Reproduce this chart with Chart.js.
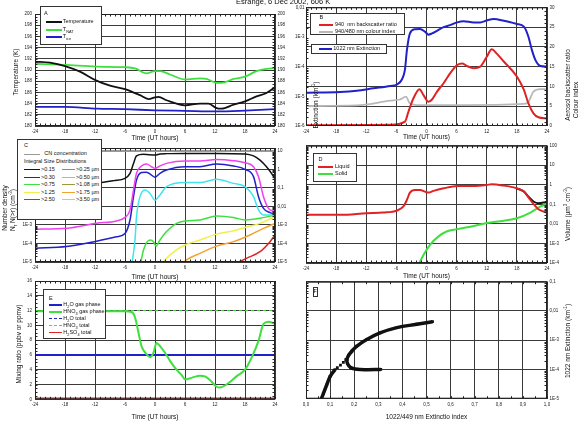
<!DOCTYPE html>
<html>
<head>
<meta charset="utf-8">
<script src="https://cdn.jsdelivr.net/npm/chart.js@4.4.1/dist/chart.umd.min.js"></script>
<style>
body { margin: 0; background: #fff; }
#wrap { position: relative; width: 580px; height: 423px; overflow: hidden; background: #fff;
        font-family: "Liberation Sans", Arial, sans-serif; color: #111; }
canvas { position: absolute; left: 0; top: 0; }
.t { position: absolute; white-space: nowrap; line-height: 1; }
.rot { transform: translate(-50%, -50%) rotate(-90deg); }
.box { position: absolute; border: 1px solid #333; background: #fff; box-sizing: border-box; }
.sw { position: absolute; height: 0; }
sub, sup { font-size: 70%; line-height: 0; }
</style>
</head>
<body>
<div id="wrap"></div>
<script>
// ---- Panel A: temperatures (K) ----
const tempHours = [-24, -21, -18, -15, -11.7, -9, -6, -3, -1.3, 0, 0.7, 2.3, 6, 9, 10.7, 12.3, 13.3, 15.7, 18, 20.3, 22.3, 24];
const tempK = [191.5, 191.3, 190.7, 189.7, 188.1, 187.2, 186.6, 185.5, 184.8, 185.1, 185.2, 184.6, 183.7, 184.0, 184.0, 183.2, 183.1, 183.8, 184.4, 185.3, 185.9, 186.9];
const natHours = [-24, -18, -11.7, -6, -4, -1.7, 0, 1, 3, 6, 9, 10.3, 12.3, 13.3, 15.7, 18, 20.3, 22.3, 24];
const natK = [191.1, 190.9, 190.6, 190.5, 190.3, 189.4, 189.8, 189.8, 189.2, 188.3, 188.5, 188.4, 187.7, 187.7, 188.4, 188.8, 189.8, 190.2, 190.3];
const iceHours = [-24, -18, -11.7, -6, 0, 6, 12.3, 18, 24];
const iceK = [183.4, 183.4, 183.1, 183.0, 182.8, 182.7, 182.6, 182.75, 183.0];

// ---- Panel B: extinction (km-1, left log) and ratios (right) ----
const extHours = [-24, -17.2, -13.9, -10.6, -7.2, -5.9, -4.9, -4.3, -3.9, -3.3, -2.3, -1.3, -0.3, 0.4, 1.1, 2.1, 3.4, 4.7, 6.1, 7.4, 9.4, 10.7, 12, 13.4, 15.4, 18, 19.4, 20.3, 21, 21.7, 22.7, 24];
const ext1022 = [1.32e-5, 1.41e-5, 1.55e-5, 1.86e-5, 2.24e-5, 2.5e-5, 3.7e-5, 7.8e-5, 3.6e-4, 1.32e-3, 1.82e-3, 1.86e-3, 1.51e-3, 1.2e-3, 1.32e-3, 1.62e-3, 2.14e-3, 2.5e-3, 3.1e-3, 3.4e-3, 3.1e-3, 3.1e-3, 3.6e-3, 4.0e-3, 3.5e-3, 2.75e-3, 2.24e-3, 1.02e-3, 3.6e-4, 1.66e-4, 1.05e-4, 1.0e-4];
const bsrHours = [-24, -7.2, -4.3, -3.6, -2.6, -1.4, -0.6, 0.4, 1.1, 2.1, 3.4, 4.7, 6.1, 7.1, 8.0, 9.4, 10.7, 12.0, 13.0, 14.0, 15.4, 18.0, 19.4, 20.3, 21.3, 22.3, 24];
const bsr940 = [0.2, 0.3, 1.1, 3.6, 7.0, 9.3, 7.8, 6.1, 6.7, 8.7, 10.8, 13.3, 15.4, 15.8, 15.2, 14.6, 15.0, 17.5, 19.4, 18.3, 16.3, 12.5, 9.1, 5.7, 3.2, 2.2, 1.9];
const ciHours = [-24, -13.9, -7.2, -5.3, -4.1, -3.3, -1.9, 6.1, 19.4, 20.3, 21.3, 22.7, 24];
const ci940 = [5.05, 5.2, 6.4, 6.7, 7.4, 5.7, 5.3, 5.3, 5.6, 6.1, 8.7, 9.3, 9.3];

// ---- Panel C: integral size distributions (cm-3) ----
const cnHours = [-24, 24];
const cnConc = [10, 10];
const n015Hours = [-24, -16, -10.7, -8.3, -6, -5, -4.3, -3.7, -2.3, 0, 1, 2.3, 6, 12.3, 18, 19.7, 21, 22.3, 23.3, 24];
const n015 = [0.11, 0.14, 0.2, 0.25, 0.33, 0.62, 2.1, 5.4, 6.6, 6.0, 6.9, 7.2, 7.4, 7.4, 6.9, 5.4, 3.2, 1.4, 0.62, 0.3];
const n025Hours = [-24, -17.7, -11.7, -7.7, -6, -5, -4.3, -3.7, -2.7, -1.7, -0.7, 0, 1, 2.3, 6, 9, 12.3, 15.7, 18, 19.7, 20.7, 21.7, 22.7, 24];
const n025 = [5.9e-4, 6.6e-4, 1.23e-3, 1.66e-3, 2.57e-3, 6.5e-3, 0.078, 0.62, 1.55, 2.0, 1.41, 1.15, 1.55, 2.14, 2.9, 2.9, 3.5, 3.0, 2.3, 1.41, 0.41, 0.034, 7.9e-3, 5.2e-3];
const n030Hours = [-24, -17.7, -13, -7.7, -6, -5, -4.3, -3.7, -2.7, -1.7, -0.7, 0, 1, 2.3, 6, 9, 12.3, 15.7, 18, 19.7, 20.7, 21.7, 23, 24];
const n030 = [5.5e-5, 6.8e-5, 1.12e-4, 2.3e-4, 3.5e-4, 1.86e-3, 0.034, 0.27, 0.68, 0.71, 0.5, 0.38, 0.62, 0.93, 1.41, 1.41, 2.0, 1.55, 1.02, 0.41, 0.034, 7.9e-3, 4.7e-3, 3.9e-3];
const n050Hours = [-4.7, -4, -3.7, -3, -2, -1, 0, 1, 2.3, 6, 9, 12.3, 15.7, 18, 19.7, 20.7, 21.7, 24];
const n050 = [5.6e-6, 1.55e-4, 2.8e-3, 0.034, 0.078, 0.051, 0.022, 0.042, 0.117, 0.195, 0.195, 0.295, 0.178, 0.117, 0.034, 6.5e-3, 3.5e-3, 3.5e-3];
const n075Hours = [-3, -2.3, -1, -0.3, 0.2, 1, 2.3, 4.3, 6, 9, 12.3, 15.7, 18, 21, 24];
const n075 = [5.6e-6, 4.5e-5, 1.55e-4, 1.26e-4, 7.2e-5, 1.55e-4, 4.4e-4, 1.23e-3, 1.66e-3, 1.86e-3, 3.1e-3, 2.57e-3, 1.86e-3, 2.3e-3, 3.5e-3];
const n125Hours = [1.3, 2.3, 4.3, 6, 9, 12.3, 15.7, 18, 21, 24];
const n125 = [6.9e-6, 1.58e-5, 4.5e-5, 8.3e-5, 1.55e-4, 3.2e-4, 4.9e-4, 7.4e-4, 1.23e-3, 2.8e-3];
const n175Hours = [5, 6.3, 9, 12.3, 15.7, 19, 21.7, 24];
const n175 = [5.6e-6, 1.29e-5, 2.95e-5, 7.2e-5, 1.26e-4, 2.9e-4, 6.6e-4, 1.23e-3];
const n250Hours = [16, 18.3, 21, 23, 24];
const n250 = [7.9e-6, 1.58e-5, 3.6e-5, 1.26e-4, 2.9e-4];
const n350Hours = [23.3, 24];
const n350 = [7.9e-6, 1.58e-5];

// ---- Panel D: volume (um3 cm-3) ----
const liqHours = [-24, -17.2, -11.9, -8.6, -5.9, -4.6, -3.9, -3.3, -2.3, -1.3, -0.3, 0.4, 1.4, 3.4, 6.1, 9.4, 12, 13, 15.4, 18, 19.4, 20.3, 21.3, 22.3, 23.3, 24];
const liqVol = [0.029, 0.029, 0.035, 0.038, 0.048, 0.078, 0.17, 0.40, 0.55, 0.55, 0.45, 0.40, 0.49, 0.66, 0.87, 0.87, 0.98, 1.07, 0.91, 0.66, 0.45, 0.23, 0.105, 0.056, 0.043, 0.038];
const totHours = [18, 19.4, 20.3, 21.3, 22.3, 23.3, 24];
const totVol = [0.66, 0.45, 0.25, 0.14, 0.115, 0.123, 0.138];
const solHours = [-1.6, -0.6, 0.7, 2.4, 4.0, 6.1, 9.4, 12, 15.4, 18, 20.7, 22.7, 24];
const solVol = [8.1e-5, 2.6e-4, 8.5e-4, 2.3e-3, 4.1e-3, 5.4e-3, 7.9e-3, 0.011, 0.0145, 0.0195, 0.038, 0.078, 0.105];

// ---- Panel E: mixing ratios ----
const mixHours = [-24, -6, -4.7, -4, -3.3, -2.7, -1.7, -1, -0.3, 0.3, 1, 2, 3, 4.3, 5.3, 6, 7.3, 9, 10, 11, 12.3, 13, 14.3, 16.3, 18, 19.3, 20.7, 21.7, 22.7, 24];
const hno3Gas = [11.9, 11.9, 11.8, 11.1, 9.0, 7.2, 6.1, 5.7, 6.3, 7.6, 7.2, 6.3, 5.2, 4.0, 3.3, 2.7, 2.9, 3.2, 3.1, 2.6, 1.7, 1.6, 2.0, 3.1, 4.0, 5.6, 7.9, 10.2, 10.5, 10.2];
const flatHours = [-24, 24];
const h2oGas = [6, 6];
const h2oTotal = [6, 6];
const hno3Total = [12, 12];
const h2so4Total = [0.15, 0.15];

// ---- Panel F: extinction vs colour index ----
const fLowIdx = [0.063, 0.072, 0.086, 0.1, 0.12];
const fLowExt = [9.5e-6, 1.5e-5, 2.95e-5, 5.75e-5, 9.8e-5];
const fGapIdx = [0.13, 0.143, 0.155, 0.165];
const fGapExt = [1.15e-4, 1.41e-4, 1.74e-4, 2.14e-4];
const fUpIdx = [0.176, 0.19, 0.21, 0.252, 0.307, 0.377, 0.46, 0.525];
const fUpExt = [3.0e-4, 4.2e-4, 6.2e-4, 1.05e-3, 1.78e-3, 2.7e-3, 3.5e-3, 4.3e-3];
const fHookIdx = [0.176, 0.17, 0.172, 0.185, 0.21, 0.25, 0.31];
const fHookExt = [3.0e-4, 2.2e-4, 1.6e-4, 1.17e-4, 1.02e-4, 9.8e-5, 1.0e-4];

const BLACK = '#111', GREEN = '#3ee03e', BLUE = '#2121c9', RED = '#e02222', GRAY = '#b8b8b8';
const MAGENTA = '#f040f0', CYAN = '#40e4ec', OLIVE = '#9c9a40', YELLOW = '#f0f048', ORANGE = '#f6a030', LGRAY = '#c4c4c4';
const GRID = '#3a3a3a';
const FONT = '"Liberation Sans", Arial, sans-serif';
const TICK_FONT = { family: FONT, size: 4.5 };
const AXW = 22;  // fixed width of every y axis box

const wrap = document.getElementById('wrap');

const pts = (xs, ys) => xs.map((x, i) => ({ x, y: ys[i] }));

function line(xs, ys, color, width, extra) {
    return Object.assign({
        data: pts(xs, ys), borderColor: color, backgroundColor: color, borderWidth: width,
        pointRadius: 0, cubicInterpolationMode: 'monotone', fill: false
    }, extra || {});
}

const logLabel = v => v >= 1 ? String(v) : v >= 0.01 ? String(v).replace('.', ',') : '1E' + Math.round(Math.log10(v));

function decades(a, b) {
    const out = [];
    for (let e = a; e <= b; e++) out.push(Number('1e' + e));
    return out;
}
function logMinor(a, b) {
    const out = [];
    for (let e = a; e < b; e++) for (let m = 2; m <= 9; m++) out.push(m * Math.pow(10, e));
    return out;
}
function linMinor(min, max, step) {
    const out = [];
    for (let v = min; v <= max + 1e-9; v += step) out.push(+v.toFixed(4));
    return out;
}

function xTime() {
    return {
        type: 'linear', position: 'bottom', min: -24, max: 24,
        ticks: { stepSize: 6, autoSkip: false, maxRotation: 0, font: TICK_FONT, color: '#222', padding: 3 },
        grid: { color: GRID, lineWidth: 1, drawTicks: false }, border: { display: false },
        title: { display: true, text: 'Time (UT hours)', font: { family: FONT, size: 6.5 }, color: '#111', padding: 0 }
    };
}

function yAxis(pos, type, min, max, o) {
    const s = {
        type, position: pos, min, max,
        ticks: { display: !!o.labels, autoSkip: false, font: TICK_FONT, color: '#222', padding: o.pad || 3 },
        grid: { display: !!o.grid, color: o.gridColor || GRID, lineWidth: o.gridWidth || 1, drawTicks: false },
        border: { display: false }
    };
    if (type === 'linear') s.ticks.stepSize = o.step;
    else {
        s.afterBuildTicks = sc => { sc.ticks = o.ticks.map(v => ({ value: v })); };
        s.ticks.callback = v => logLabel(v);
    }
    return s;
}

// frame round the plot plus small inward minor ticks
const frame = {
    id: 'frame',
    afterDraw(chart, args, o) {
        const { ctx, chartArea: a } = chart;
        ctx.save();
        ctx.strokeStyle = '#222';
        ctx.lineWidth = 1;
        ctx.beginPath();
        const xs = chart.scales.x;
        (o.xMinor || []).forEach(v => {
            const p = Math.round(xs.getPixelForValue(v)) + 0.5;
            ctx.moveTo(p, a.top); ctx.lineTo(p, a.top + 2.5);
            ctx.moveTo(p, a.bottom); ctx.lineTo(p, a.bottom - 2.5);
        });
        ['left', 'right'].forEach(side => {
            const m = o[side];
            if (!m) return;
            const s = chart.scales[m.id];
            const x0 = side === 'left' ? a.left : a.right;
            const d = side === 'left' ? 2.5 : -2.5;
            m.values.forEach(v => {
                const p = Math.round(s.getPixelForValue(v)) + 0.5;
                if (p < a.top || p > a.bottom) return;
                ctx.moveTo(x0, p); ctx.lineTo(x0 + d, p);
            });
        });
        ctx.stroke();
        ctx.strokeRect(a.left + 0.5, a.top + 0.5, a.width - 1, a.height - 1);
        ctx.restore();
    }
};

// box = [left, top, right, bottom] of the plot area, hB = height of the x axis box
function panel(box, hB, datasets, scales, frameOpts) {
    const cv = document.createElement('canvas');
    cv.width = 580;
    cv.height = 423;
    wrap.appendChild(cv);
    scales.x.afterFit = s => { s.height = hB; };
    scales.y.afterFit = s => { s.width = AXW; };
    scales.y2.afterFit = s => { s.width = AXW; };
    return new Chart(cv, {
        type: 'line',
        data: { datasets },
        options: {
            responsive: false, animation: false, events: [],
            layout: { padding: { left: box[0] - AXW, top: box[1], right: 580 - box[2] - AXW, bottom: 423 - box[3] - hB } },
            plugins: { legend: { display: false }, tooltip: { enabled: false }, frame: frameOpts },
            scales
        },
        plugins: [frame]
    });
}

const hourMinor = linMinor(-24, 24, 1);

// A
panel([35, 14, 275, 126], 16, [
    line(tempHours, tempK, BLACK, 1.8),
    line(natHours, natK, GREEN, 1.8),
    line(iceHours, iceK, BLUE, 1.8)
], {
    x: xTime(),
    y: yAxis('left', 'linear', 180, 200, { labels: true, grid: true, step: 2 }),
    y2: yAxis('right', 'linear', 180, 200, { labels: true, step: 2, pad: 2.5 })
}, { xMinor: hourMinor, left: { id: 'y', values: linMinor(180, 200, 0.5) }, right: { id: 'y2', values: linMinor(180, 200, 0.5) } });

// B
panel([306, 7.3, 547, 126], 15.5, [
    line(extHours, ext1022, BLUE, 2),
    line(bsrHours, bsr940, RED, 2, { yAxisID: 'y2' }),
    line(ciHours, ci940, GRAY, 1.8, { yAxisID: 'y2' })
], {
    x: xTime(),
    y: yAxis('left', 'logarithmic', 1e-6, 1e-2, { labels: true, ticks: decades(-6, -2), pad: 1.5 }),
    y2: yAxis('right', 'linear', 0, 30, { labels: true, grid: true, step: 5, pad: 2.5 })
}, { xMinor: hourMinor, left: { id: 'y', values: logMinor(-6, -2) }, right: { id: 'y2', values: linMinor(0, 30, 1) } });

// C
panel([35, 148, 275, 262], 18.8, [
    line(cnHours, cnConc, '#999', 2),
    line(n015Hours, n015, BLACK, 1.5),
    line(n025Hours, n025, MAGENTA, 1.5),
    line(n030Hours, n030, BLUE, 1.5),
    line(n050Hours, n050, CYAN, 1.5),
    line(n075Hours, n075, GREEN, 1.5),
    line(n125Hours, n125, YELLOW, 1.5),
    line(n175Hours, n175, ORANGE, 1.5),
    line(n250Hours, n250, RED, 1.5),
    line(n350Hours, n350, LGRAY, 1.5)
], {
    x: xTime(),
    y: Object.assign(yAxis('left', 'logarithmic', 1e-5, 14.5, { labels: true, grid: true, ticks: decades(-5, 1) }),
        {}),
    y2: yAxis('right', 'logarithmic', 1e-5, 14.5, { labels: true, ticks: decades(-5, 1), pad: 2.5 })
}, { xMinor: hourMinor, left: { id: 'y', values: logMinor(-5, 1) }, right: { id: 'y2', values: logMinor(-5, 1) } });

// D
panel([306, 145.7, 547, 263], 16.8, [
    line(liqHours, liqVol, RED, 2, { yAxisID: 'y2' }),
    line(totHours, totVol, BLACK, 2, { yAxisID: 'y2' }),
    line(solHours, solVol, GREEN, 2, { yAxisID: 'y2' })
], {
    x: xTime(),
    y: yAxis('left', 'logarithmic', 1e-4, 100, { ticks: decades(-4, 2) }),
    y2: yAxis('right', 'logarithmic', 1e-4, 100, { labels: true, grid: true, ticks: decades(-4, 2), pad: 2.5 })
}, { xMinor: hourMinor, left: { id: 'y', values: logMinor(-4, 2) }, right: { id: 'y2', values: logMinor(-4, 2) } });

// E
panel([35, 281, 275, 399.3], 22.2, [
    line(mixHours, hno3Gas, GREEN, 2),
    line(flatHours, h2oGas, BLUE, 2),
    line(flatHours, h2oTotal, BLUE, 1, { borderDash: [2, 2] }),
    line(flatHours, hno3Total, GREEN, 1, { borderDash: [3, 3] }),
    line(flatHours, h2so4Total, RED, 1.2)
], {
    x: xTime(),
    y: yAxis('left', 'linear', 0, 16, { labels: true, grid: true, step: 2 }),
    y2: yAxis('right', 'linear', 0, 16, { step: 2 })
}, { xMinor: hourMinor, left: { id: 'y', values: linMinor(0, 16, 0.5) }, right: { id: 'y2', values: linMinor(0, 16, 0.5) } });

// F
const fx = {
    type: 'linear', position: 'bottom', min: 0, max: 1,
    ticks: { stepSize: 0.1, autoSkip: false, maxRotation: 0, font: TICK_FONT, color: '#222', padding: 3,
             callback: v => v.toFixed(1).replace('.', ',') },
    grid: { color: GRID, lineWidth: 1, drawTicks: false }, border: { display: false },
    title: { display: true, text: '1022/449 nm Extinctio index', font: { family: FONT, size: 6.5 }, color: '#111', padding: 0 }
};
const sq = { yAxisID: 'y2', pointStyle: 'rect', pointRadius: 2, pointBorderWidth: 0, cubicInterpolationMode: 'default', tension: 0.4 };
panel([306, 281.7, 547, 398.7], 22.1, [
    line(fLowIdx, fLowExt, BLACK, 3.5, sq),
    line(fGapIdx, fGapExt, BLACK, 0, Object.assign({}, sq, { showLine: false })),
    line(fUpIdx, fUpExt, BLACK, 3.5, sq),
    line(fHookIdx, fHookExt, BLACK, 3.5, sq)
], {
    x: fx,
    y: yAxis('left', 'logarithmic', 1e-5, 0.1, { ticks: decades(-5, -1) }),
    y2: yAxis('right', 'logarithmic', 1e-5, 0.1, { labels: true, grid: true, ticks: decades(-5, -1), pad: 2.5 })
}, { xMinor: linMinor(0, 1, 0.05), left: { id: 'y', values: logMinor(-5, -1) }, right: { id: 'y2', values: logMinor(-5, -1) } });

// ---- text overlays: title, y axis titles, legends ----
function addText(html, x, y, size, cls) {
    const d = document.createElement('div');
    d.className = 't' + (cls ? ' ' + cls : '');
    d.style.left = x + 'px';
    d.style.top = y + 'px';
    d.style.fontSize = size + 'px';
    d.innerHTML = html;
    wrap.appendChild(d);
    return d;
}
function addBox(x, y, w, h) {
    const d = document.createElement('div');
    d.className = 'box';
    Object.assign(d.style, { left: x + 'px', top: y + 'px', width: w + 'px', height: h + 'px' });
    wrap.appendChild(d);
}
function legendRow(x1, x2, y, color, width, style, tx, html) {
    const s = document.createElement('div');
    s.className = 'sw';
    Object.assign(s.style, { left: x1 + 'px', width: (x2 - x1) + 'px', top: (y - width / 2) + 'px',
        borderTop: width + 'px ' + style + ' ' + color });
    wrap.appendChild(s);
    addText(html, tx, y - 2.9, 5.5);
}
const yTitle = (html, x, y) => addText(html, x, y, 6.5, 'rot');

addText('Esrange, 6 Dec 2002, 606 K', 236, -2, 7.5).style.lineHeight = '8px';

yTitle('Temperature (K)', 15.5, 72);
yTitle('Extinction (km<sup>-1</sup>)', 315.5, 105);
yTitle('Aerosol backscatter ratio', 568.3, 85);
yTitle('Colour index', 575.7, 100);
yTitle('Number density', 5, 208);
yTitle('N<sub>r</sub> N(&gt;r) (cm<sup>-3</sup>)', 12.5, 210);
yTitle('Volume (&micro;m<sup>3</sup> cm<sup>-3</sup>)', 568, 214);
yTitle('Mixing ratio (ppbv or ppmv)', 18.5, 344);
yTitle('1022 nm Extinction (km<sup>-1</sup>)', 567.7, 341);

// legend A
addBox(40, 6, 62, 39);
addText('A', 44, 10.5, 5.5);
const legendA = [['Temperature', BLACK], ['T<sub>NAT</sub>', GREEN], ['T<sub>ice</sub>', BLUE]];
legendA.forEach((r, i) => legendRow(45.5, 62, 22.3 + i * 7.2, r[1], 2, 'solid', 62.8, r[0]));

// legend B
addBox(310, 12.7, 95, 22.5);
addText('B', 319.5, 15, 5.5);
legendRow(319.3, 333.3, 25, RED, 2, 'solid', 335, '940&nbsp; nm backscatter ratio');
legendRow(319.3, 333.3, 32, GRAY, 2, 'solid', 335, '940/480 nm colour index');
addBox(310.7, 44.3, 76, 10);
legendRow(319.3, 331.7, 49.3, BLUE, 2, 'solid', 333.3, '1022 nm Extinction');

// legend C
addBox(16.7, 139.3, 85, 80.7);
addText('C', 24, 143, 5.5);
legendRow(24, 40, 154.3, '#999', 1.5, 'solid', 44.3, 'CN concentration');
addText('Integral Size Distributions', 24, 159.4, 5.5);
const legendC = [
    ['&gt;0.15', BLACK, '&gt;0.25 &micro;m', MAGENTA],
    ['&gt;0.30', BLUE, '&gt;0.50 &micro;m', CYAN],
    ['&gt;0.75', GREEN, '&gt;1.08 &micro;m', OLIVE],
    ['&gt;1.25', YELLOW, '&gt;1.75 &micro;m', ORANGE],
    ['&gt;2.50', RED, '&gt;3.50 &micro;m', LGRAY]
];
legendC.forEach((r, i) => {
    const y = 170 + i * 7.5;
    legendRow(24, 40, y, r[1], 1.5, 'solid', 41, r[0]);
    legendRow(61.7, 75, y, r[3], 1.5, 'solid', 76, r[2]);
});

// legend D
addBox(313.3, 153.3, 44, 29);
addText('D', 318.5, 156.5, 5.5);
legendRow(318.3, 333.3, 167.3, RED, 2, 'solid', 335, 'Liquid');
legendRow(318.3, 333.3, 174.3, GREEN, 2, 'solid', 335, 'Solid');

// legend E
addBox(43.3, 289, 62.7, 50.3);
addText('E', 49, 295.5, 5.5);
const legendE = [
    ['H<sub>2</sub>O gas phase', BLUE, 2, 'solid'],
    ['HNO<sub>3</sub> gas phase', GREEN, 2, 'solid'],
    ['H<sub>2</sub>O total', BLUE, 1, 'dashed'],
    ['HNO<sub>3</sub> total', GREEN, 1, 'dashed'],
    ['H<sub>2</sub>SO<sub>4</sub> total', RED, 1, 'solid']
];
legendE.forEach((r, i) => legendRow(49.3, 61.7, 305 + i * 6.9, r[1], r[2], r[3], 63.3, r[0]));

// label F
addBox(312.7, 286.7, 5, 10);
addText('F', 313.6, 289.3, 5.5);
</script>
</body>
</html>
